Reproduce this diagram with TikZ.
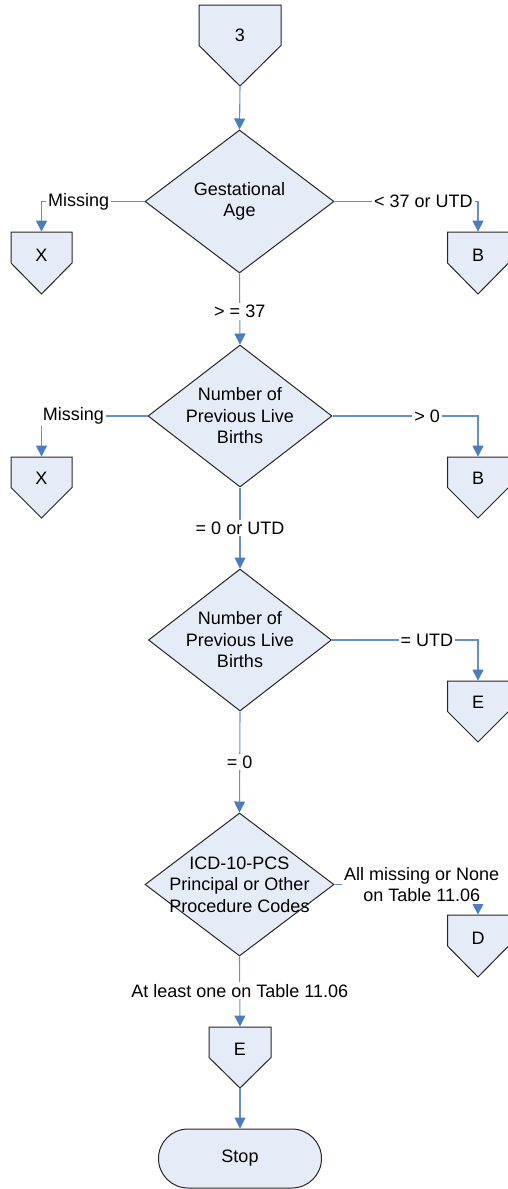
\documentclass[tikz,border=0pt]{standalone}
\usepackage{fontspec}
\setmainfont{Liberation Sans}
\usetikzlibrary{shapes.geometric,arrows.meta,calc}

\definecolor{shapefill}{HTML}{E6ECF7}
\definecolor{flowline}{HTML}{6590CC}
\definecolor{tipblue}{HTML}{4A7CC4}

% Off-page connector: #1 name, #2 centre (px), #3 half width, #4 half height,
% #5 text, #6 vertical offset of the text
\newcommand\offpageconn[6]{%
  \draw[pentagonbox] ($(#2)+(-#3,-#4)$) -- ($(#2)+(#3,-#4)$) -- ($(#2)+(#3,0)$)
        -- ($(#2)+(0,#4)$) -- ($(#2)+(-#3,0)$) -- cycle;
  \node[inner sep=0pt, minimum width=#3pt, minimum height=#4pt] (#1) at (#2) {};
  \node (#1-text) at ($(#2)+(0,#6)$) {#5};
}

\begin{document}
\begin{tikzpicture}[x=0.5pt, y=-0.5pt,
  font=\fontsize{9}{10.75}\selectfont,
  pentagonbox/.style={draw=black!85, fill=shapefill, line width=0.5pt},
  decision/.style={diamond, draw=black!85, fill=shapefill, line width=0.5pt, inner sep=0pt},
  terminal/.style={rectangle, rounded corners=14.75pt, draw=black!85, fill=shapefill,
    line width=0.5pt, minimum width=81.5pt, minimum height=29.5pt, inner sep=0pt},
  flow/.style={draw=flowline, line width=0.55pt,
    -{Triangle[width=5.5pt,length=5.5pt,color=tipblue]}},
  lbl/.style={fill=white, inner sep=1pt, align=center},
]
\useasboundingbox (0,0) rectangle (508,1189);

% shapes
\offpageconn{s3}{240,45.5}{41}{40.5}{3}{-10.5}
\node[decision, minimum width=94.5pt, minimum height=71.5pt,
  label={[align=center]center:{Gestational\\Age}}] (d1) at (239.5,201.5) {};
\offpageconn{x1}{41.5,263}{30.5}{31}{X}{-7.5}
\offpageconn{b1}{478,263}{30.5}{31}{B}{-7.5}

\node[decision, minimum width=92pt, minimum height=71pt,
  label={[align=center]center:{Number of\\Previous Live\\Births}}] (d2) at (240,416) {};
\offpageconn{x2}{41.5,487.5}{30.5}{30.5}{X}{-9}
\offpageconn{b2}{478,487.5}{30.5}{30.5}{B}{-9}

\node[decision, minimum width=91.5pt, minimum height=71pt,
  label={[align=center]center:{Number of\\Previous Live\\Births}}] (d3) at (240,640) {};
\offpageconn{e1}{478,711.5}{30.5}{30.5}{E}{-9}

\node[decision, minimum width=94.5pt, minimum height=71.5pt,
  label={[align=center]center:{ICD-10-PCS\\Principal or Other\\Procedure Codes}}] (d4) at (239.5,884.5) {};
\offpageconn{dd}{478,946}{30.5}{31}{D}{-8}

\offpageconn{e2}{240,1057.5}{31}{30.5}{E}{-8.5}
\node[terminal] (stop) at (240,1158.5) {Stop};

% connectors
\draw[flow] (s3.south) -- (d1.north);
\draw[flow] (d1.west) -| node[lbl, pos=0.32] {Missing} (x1.north);
\draw[flow] (d1.east) -| node[lbl, pos=0.31] {< 37 or UTD} (b1.north);
\draw[flow] (d1.south) -- node[lbl, pos=0.53] {> = 37} (d2.north);

\draw[flow] (d2.west) -| node[lbl, pos=0.35] {Missing} (x2.north);
\draw[flow] (d2.east) -| node[lbl, pos=0.325] {> 0} (b2.north);
\draw[flow] (d2.south) -- node[lbl, pos=0.5] {= 0 or UTD} (d3.north);

\draw[flow] (d3.east) -| node[lbl, pos=0.325] {= UTD} (e1.north);
\draw[flow] (d3.south) -- node[lbl, pos=0.5] {= 0} (d4.north);

\draw[flow] (d4.east) -| node[lbl, pos=0.304] {All missing or None\\on Table 11.06} (dd.north);
\draw[flow] (d4.south) -- node[lbl, pos=0.49] {At least one on Table 11.06} (e2.north);
\draw[flow] (e2.south) -- (stop.north);
\end{tikzpicture}
\end{document}
